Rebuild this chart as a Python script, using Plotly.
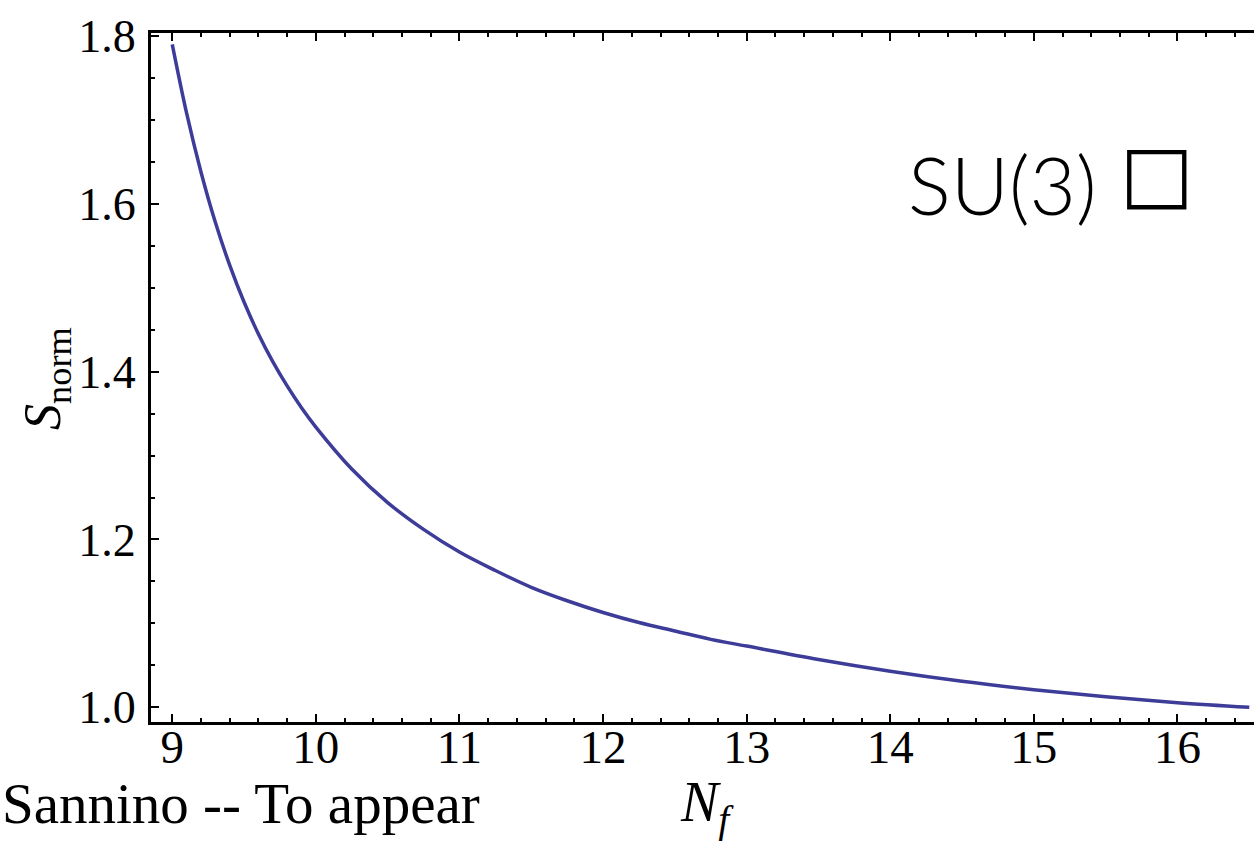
import plotly.graph_objects as go

# Data
nf = [9.0, 9.1, 9.2, 9.3, 9.4, 9.5, 9.6, 9.7, 9.8, 9.9, 10.0,
      10.25, 10.5, 10.75, 11.0, 11.25, 11.5, 11.75, 12.0, 12.25, 12.5, 12.75,
      13.0, 13.5, 14.0, 14.5, 15.0, 15.5, 16.0, 16.5]
s_norm = [1.790, 1.708, 1.638, 1.578, 1.527, 1.483, 1.445, 1.412, 1.383, 1.357, 1.334,
          1.284, 1.244, 1.212, 1.185, 1.163, 1.143, 1.127, 1.113, 1.101, 1.091, 1.081,
          1.073, 1.057, 1.043, 1.031, 1.021, 1.0125, 1.0055, 1.000]

x_ticks = [9, 10, 11, 12, 13, 14, 15, 16]
y_ticks = [1.0, 1.2, 1.4, 1.6, 1.8]

W, H = 1254, 841
ML, MR, MT, MB = 151, 0, 33, 119
PW, PH = W - ML - MR, H - MT - MB

def px_x(p):
    return (p - ML) / PW

def px_y(p):
    return (H - MB - p) / PH

serif = "Liberation Serif, Times New Roman, serif"

fig = go.Figure()
fig.add_trace(go.Scatter(
    x=nf, y=s_norm, mode="lines",
    line=dict(color="#3d3d99", width=3.5, shape="spline", smoothing=1.0),
    showlegend=False, hoverinfo="skip",
))

fig.update_layout(
    width=W, height=H,
    margin=dict(l=ML, r=MR, t=MT, b=MB, pad=0),
    paper_bgcolor="white", plot_bgcolor="white",
    font=dict(family=serif, color="black", size=46),
    xaxis=dict(
        range=[8.852, 16.533],
        tickvals=x_ticks, ticktext=[str(v) for v in x_ticks],
        ticks="inside", ticklen=8, tickwidth=2, tickcolor="black",
        minor=dict(dtick=0.2, tick0=9, ticks="inside", ticklen=4, tickwidth=2, tickcolor="black"),
        showline=True, linecolor="black", linewidth=3, mirror="allticks",
        showgrid=False, zeroline=False,
        tickfont=dict(family=serif, size=47, color="black"),
        ticklabelstandoff=-18,
    ),
    yaxis=dict(
        range=[0.9825, 1.8036],
        tickvals=y_ticks, ticktext=["%.1f" % v for v in y_ticks],
        ticks="inside", ticklen=8, tickwidth=2, tickcolor="black",
        minor=dict(dtick=0.05, tick0=1.0, ticks="inside", ticklen=4, tickwidth=2, tickcolor="black"),
        showline=True, linecolor="black", linewidth=3, mirror=False,
        showgrid=False, zeroline=False,
        tickfont=dict(family=serif, size=46, color="black"),
        ticklabelstandoff=3,
    ),
)

# Axis labels
fig.add_annotation(
    text="<i>N</i><sub><i>f</i></sub>", xref="paper", yref="paper",
    x=px_x(707), y=px_y(806), xanchor="center", yanchor="middle",
    showarrow=False, font=dict(family=serif, size=56, color="black"),
)
fig.add_annotation(
    text="<i>S</i><sub>norm</sub>", xref="paper", yref="paper",
    x=px_x(46), y=px_y(379), xanchor="center", yanchor="middle", textangle=-90,
    showarrow=False, font=dict(family=serif, size=52, color="black"),
)
# Footer text
fig.add_annotation(
    text="Sannino -- To appear", xref="paper", yref="paper",
    x=px_x(0), y=px_y(803), xanchor="left", yanchor="middle",
    showarrow=False, font=dict(family=serif, size=57, color="black"),
)
# Group label
fig.add_annotation(
    text="SU(3)", xref="paper", yref="paper",
    x=px_x(1002), y=px_y(184), xanchor="center", yanchor="middle",
    showarrow=False, font=dict(family="Lato, Open Sans, sans-serif", size=80, color="black", weight=300),
)
fig.add_annotation(
    text="□", xref="paper", yref="paper",
    x=px_x(1157), y=px_y(173), xanchor="center", yanchor="middle",
    showarrow=False, font=dict(family="DejaVu Sans, sans-serif", size=78, color="black"),
)

fig.write_html("out.html")
